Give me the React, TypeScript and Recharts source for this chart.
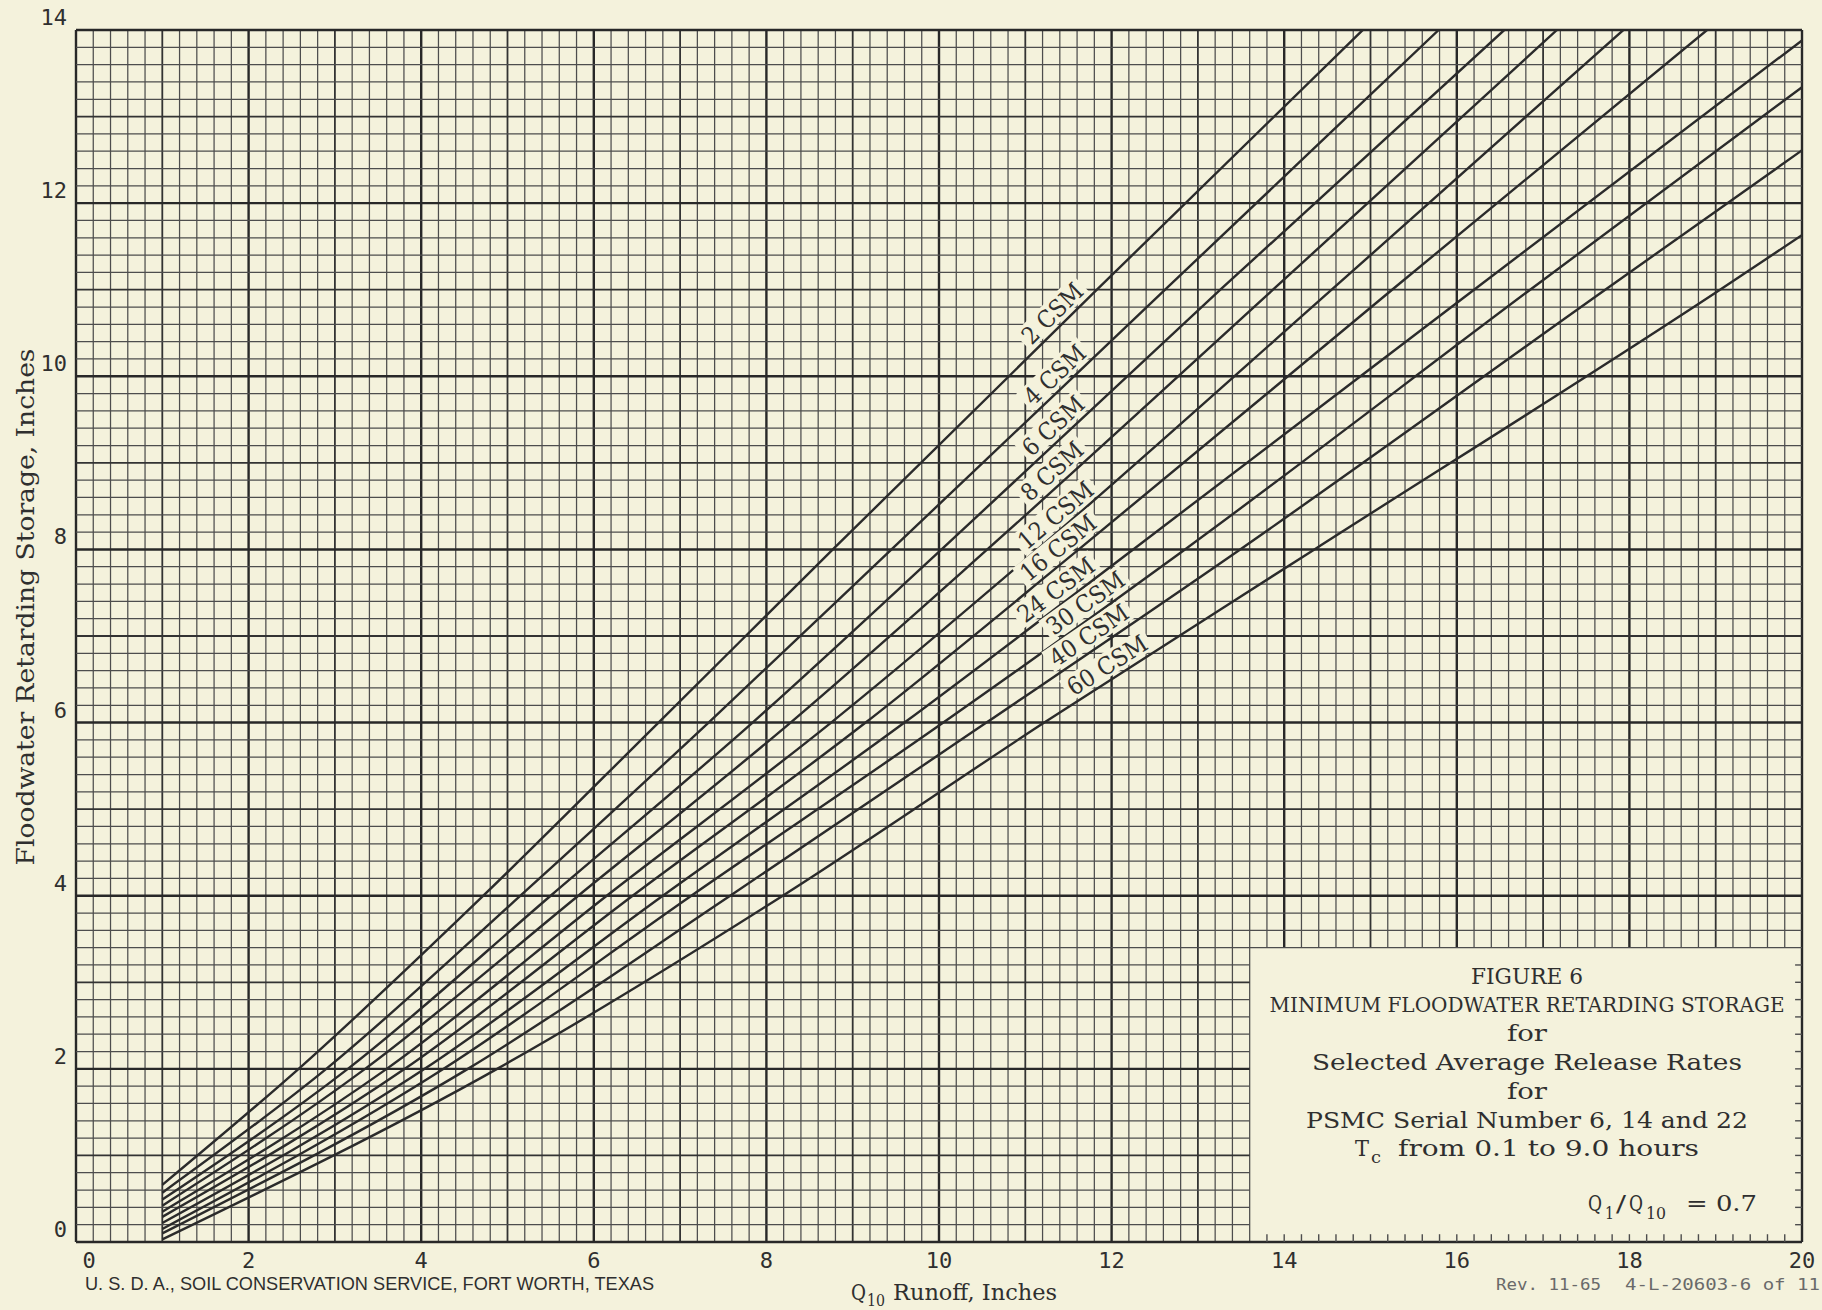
import React from "react";
import { LineChart, Line, XAxis, YAxis, ReferenceLine, ReferenceDot } from "recharts";

const W = 1822;
const H = 1310;
const BG = "#f4f2dc";
const INK = "#2b2b2b";
const TEXT = "#2f2f2f";
const SERIF = "'DejaVu Serif', 'Liberation Serif', serif";
const MONO = "'DejaVu Sans Mono', 'Liberation Mono', monospace";
const NARROW = "'Liberation Sans Narrow', 'Liberation Sans', sans-serif";

// plot frame in page pixels
const PLOT_LEFT = 76;
const PLOT_TOP = 30;
const PLOT_RIGHT = 1802;
const PLOT_BOTTOM = 1242;

// axes
const xTicks = [0, 2, 4, 6, 8, 10, 12, 14, 16, 18, 20];
const yTicks = [0, 2, 4, 6, 8, 10, 12, 14];

// [Q10 runoff, storage]: start at Q10 = 1, then where
// each curve crosses 2, 4, 6, 8 and 11 inches, then where it leaves the grid
const csm2 = [[1, 0.66], [2.58, 2], [4.72, 4], [6.75, 6], [8.77, 8], [11.83, 11], [14.91, 14]];
const csm4 = [[1, 0.57], [2.9, 2], [5.15, 4], [7.33, 6], [9.45, 8], [12.62, 11], [15.79, 14]];
const csm6 = [[1, 0.49], [3.15, 2], [5.5, 4], [7.84, 6], [10.03, 8], [13.26, 11], [16.55, 14]];
const csm8 = [[1, 0.42], [3.35, 2], [5.82, 4], [8.28, 6], [10.56, 8], [13.87, 11], [17.16, 14]];
const csm12 = [[1, 0.35], [3.6, 2], [6.15, 4], [8.75, 6], [11.14, 8], [14.55, 11], [17.93, 14]];
const csm16 = [[1, 0.29], [3.81, 2], [6.45, 4], [9.15, 6], [11.62, 8], [15.25, 11], [18.9, 14]];
const csm24 = [[1, 0.22], [4.04, 2], [6.8, 4], [9.6, 6], [12.25, 8], [16.2, 11], [20, 13.88]];
const csm30 = [[1, 0.15], [4.26, 2], [7.13, 4], [10.05, 6], [12.85, 8], [16.85, 11], [20, 13.34]];
const csm40 = [[1, 0.1], [4.54, 2], [7.58, 4], [10.55, 6], [13.49, 8], [17.72, 11], [20, 12.61]];
const csm60 = [[1, 0.03], [4.88, 2], [8.19, 4], [11.22, 6], [14.35, 8], [19.05, 11], [20, 11.63]];

const seriesNames = ["2 CSM", "4 CSM", "6 CSM", "8 CSM", "12 CSM", "16 CSM", "24 CSM", "30 CSM", "40 CSM", "60 CSM"];
const seriesPoints = [csm2, csm4, csm6, csm8, csm12, csm16, csm24, csm30, csm40, csm60];
// Q10 value where each curve label starts
const labelStartX = [11.12, 11.14, 11.12, 11.1, 11.06, 11.08, 11.04, 11.37, 11.4, 11.6];

// grid: ruled every 0.2 inch, title block in the lower right corner
const gridX = Array.from({ length: 101 }, (_, i) => i / 5);
const gridY = Array.from({ length: 71 }, (_, i) => i / 5);
const BOX_X = 13.6;
const BOX_Y = 3.4;

const interp = (pts: number[][], x: number) => {
  for (let i = 1; i < pts.length; i++) {
    if (x <= pts[i][0]) {
      const [x0, y0] = pts[i - 1];
      const [x1, y1] = pts[i];
      return { y: y0 + ((x - x0) * (y1 - y0)) / (x1 - x0), slope: (y1 - y0) / (x1 - x0) };
    }
  }
  return { y: pts[pts.length - 1][1], slope: 1 };
};

const gridStyle = (v: number) => {
  const k = Math.round(v * 5);
  if (k % 10 === 0) return { stroke: "#282828", strokeWidth: 2.4 };
  if (k % 5 === 0) return { stroke: "#333333", strokeWidth: 1.8 };
  return { stroke: "#4d4d4d", strokeWidth: 1.25 };
};

const XTick = (props: any) => {
  const { x, y, payload } = props;
  const v = payload.value;
  return (
    <text x={x + (v === 0 ? 13 : 0)} y={y + 26} textAnchor="middle" fontSize={22} fontFamily={MONO} fill={TEXT}>
      {v}
    </text>
  );
};

const YTick = (props: any) => {
  const { x, y, payload } = props;
  return (
    <text x={x - 9} y={y - 5} textAnchor="end" fontSize={22} fontFamily={MONO} fill={TEXT}>
      {payload.value}
    </text>
  );
};

const CurveLabel = (props: any) => {
  const { cx, cy, text, angle } = props;
  if (cx == null || cy == null) return null;
  const w = text.length * 15;
  return (
    <g transform={`translate(${cx},${cy}) rotate(${-angle})`}>
      <rect x={-4} y={-27} width={w + 8} height={24} fill={BG} />
      <text x={0} y={-6} fontSize={24} fontFamily={SERIF} fill={TEXT} textLength={w} lengthAdjust="spacingAndGlyphs">
        {text}
      </text>
    </g>
  );
};

const Run = ({ x, y, w, size = 23, anchor = "start", font = SERIF, fill = TEXT, children }: any) => (
  <text
    x={x}
    y={y}
    fontSize={size}
    fontFamily={font}
    fill={fill}
    textAnchor={anchor}
    textLength={w}
    lengthAdjust="spacingAndGlyphs"
  >
    {children}
  </text>
);

const App: React.FC = () => {
  const xScale = (PLOT_RIGHT - PLOT_LEFT) / 20;
  const yScale = (PLOT_BOTTOM - PLOT_TOP) / 14;

  const gridLines = [
    ...gridX.map((x, i) => {
      const inBox = x > BOX_X + 1e-6 && x < 20 - 1e-6;
      return inBox ? (
        <ReferenceLine key={`vx${i}`} segment={[{ x, y: BOX_Y }, { x, y: 14 }]} {...gridStyle(x)} />
      ) : (
        <ReferenceLine key={`vx${i}`} x={x} {...gridStyle(x)} />
      );
    }),
    ...gridY.map((y, i) => {
      const inBox = y > 1e-6 && y < BOX_Y - 1e-6;
      return inBox ? (
        <ReferenceLine key={`hy${i}`} segment={[{ x: 0, y }, { x: BOX_X, y }]} {...gridStyle(y)} />
      ) : (
        <ReferenceLine key={`hy${i}`} y={y} {...gridStyle(y)} />
      );
    }),
  ];

  const boxTicks = [
    ...gridX
      .filter((x) => x > BOX_X + 1e-6 && x < 20 - 1e-6)
      .map((x, i) => (
        <ReferenceLine key={`bt${i}`} segment={[{ x, y: 0 }, { x, y: 0.09 }]} stroke="#4d4d4d" strokeWidth={1.4} />
      )),
    ...gridY
      .filter((y) => y > 1e-6 && y < BOX_Y - 1e-6)
      .map((y, i) => (
        <ReferenceLine key={`rt${i}`} segment={[{ x: 19.92, y }, { x: 20, y }]} stroke="#4d4d4d" strokeWidth={1.4} />
      )),
  ];

  return (
    <div style={{ position: "absolute", left: 0, top: 0, width: W, height: H, background: BG, overflow: "hidden" }}>
      <LineChart width={W} height={H} margin={{ top: PLOT_TOP, right: W - PLOT_RIGHT, bottom: 0, left: 0 }}>
        <XAxis
          type="number"
          dataKey="x"
          domain={[0, 20]}
          ticks={xTicks}
          interval={0}
          allowDataOverflow
          axisLine={false}
          tickLine={false}
          tickSize={0}
          tickMargin={0}
          height={H - PLOT_BOTTOM}
          tick={<XTick />}
        />
        <YAxis
          type="number"
          domain={[0, 14]}
          ticks={yTicks}
          interval={0}
          allowDataOverflow
          axisLine={false}
          tickLine={false}
          tickSize={0}
          tickMargin={0}
          width={PLOT_LEFT}
          tick={<YTick />}
        />
        {gridLines}
        {boxTicks}
        {seriesPoints.map((pts, i) => (
          <Line
            key={seriesNames[i]}
            data={pts.map(([x, y]) => ({ x, y }))}
            dataKey="y"
            name={seriesNames[i]}
            type="monotone"
            dot={false}
            activeDot={false}
            stroke={INK}
            strokeWidth={2.4}
            isAnimationActive={false}
          />
        ))}
        {seriesPoints.map((pts, i) => {
          const lx = labelStartX[i];
          const { y, slope } = interp(pts, lx);
          const angle = (Math.atan((slope * yScale) / xScale) * 180) / Math.PI;
          return (
            <ReferenceDot
              key={`lab${i}`}
              x={lx}
              y={y}
              r={0}
              ifOverflow="visible"
              shape={(p: any) => <CurveLabel {...p} text={seriesNames[i]} angle={angle} />}
            />
          );
        })}
      </LineChart>

      <svg width={W} height={H} style={{ position: "absolute", left: 0, top: 0, pointerEvents: "none" }}>
        {/* axis titles */}
        <g transform="translate(34,607) rotate(-90)">
          <Run x={0} y={0} w={517} size={24} anchor="middle">Floodwater Retarding Storage, Inches</Run>
        </g>
        <Run x={851} y={1300} w={15} size={22}>Q</Run>
        <Run x={867} y={1306} w={18} size={16}>10</Run>
        <Run x={893} y={1300} w={164} size={22}>Runoff, Inches</Run>

        {/* footers */}
        <Run x={85} y={1290} w={569} size={18} font={NARROW} fill="#2e2e2e">
          U. S. D. A., SOIL CONSERVATION SERVICE, FORT WORTH, TEXAS
        </Run>
        <Run x={1496} y={1290} w={105} size={16} font={MONO} fill="#6a6a6a">Rev. 11-65</Run>
        <Run x={1625} y={1290} w={195} size={16} font={MONO} fill="#6a6a6a">4-L-20603-6 of 11</Run>

        {/* title block */}
        <Run x={1527} y={984} w={112} size={22} anchor="middle">FIGURE 6</Run>
        <Run x={1527} y={1012} w={515} size={20.7} anchor="middle">MINIMUM FLOODWATER RETARDING STORAGE</Run>
        <Run x={1527} y={1041} w={40} size={23} anchor="middle">for</Run>
        <Run x={1527} y={1070} w={430} size={23} anchor="middle">Selected Average Release Rates</Run>
        <Run x={1527} y={1099} w={40} size={23} anchor="middle">for</Run>
        <Run x={1527} y={1128} w={442} size={23} anchor="middle">PSMC Serial Number 6, 14 and 22</Run>
        <Run x={1355} y={1156} w={14} size={23}>T</Run>
        <Run x={1371} y={1163} w={10} size={17}>c</Run>
        <Run x={1398} y={1156} w={301} size={23}>from 0.1 to 9.0 hours</Run>
        <Run x={1588} y={1211} w={14} size={23}>Q</Run>
        <Run x={1605} y={1219} w={9} size={17}>1</Run>
        <Run x={1616} y={1211} w={10} size={23}>/</Run>
        <Run x={1629} y={1211} w={14} size={23}>Q</Run>
        <Run x={1646} y={1219} w={20} size={17}>10</Run>
        <Run x={1686} y={1211} w={71} size={23}>= 0.7</Run>
      </svg>
    </div>
  );
};

export default App;
